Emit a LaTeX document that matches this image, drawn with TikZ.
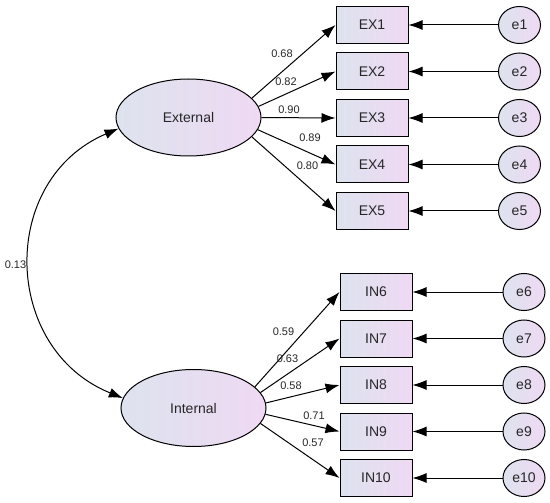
\documentclass[tikz,border=0pt]{standalone}
\usepackage{fontspec}
\setmainfont{Liberation Sans}
\usetikzlibrary{arrows.meta,shapes.geometric}
\definecolor{fillleft}{HTML}{DDE3EE}
\definecolor{fillright}{HTML}{EFD9F3}
\definecolor{txt}{HTML}{262626}
\tikzset{
    latent/.style={draw, ellipse, line width=1pt, left color=fillleft, right color=fillright,
        minimum width=145pt, minimum height=77pt, inner sep=0pt, text=txt, font=\fontsize{14}{16}\selectfont},
    item/.style={draw, rectangle, line width=1pt, left color=fillleft, right color=fillright,
        minimum width=72pt, minimum height=37pt, inner sep=0pt, text=txt, font=\fontsize{14}{16}\selectfont},
    err/.style={draw, ellipse, line width=1pt, left color=fillleft, right color=fillright,
        minimum width=42pt, minimum height=37pt, inner sep=0pt, text=txt, font=\fontsize{14}{16}\selectfont},
    load/.style={-{Latex[length=14pt,width=10pt]}, line width=1pt},
    coef/.style={text=txt, inner sep=0pt, font=\fontsize{11}{13}\selectfont}
}
\begin{document}
\begin{tikzpicture}[x=1pt, y=1pt]
    \useasboundingbox (0,0) rectangle (550,-503);

    % latent factors
    \node[latent] (ext) at (188.5,-117.5) {External};
    \node[latent] (int) at (193.5,-408) {Internal};

    % External items
    \node[item] (ex1) at (372,-25) {EX1};
    \node[item] (ex2) at (372,-71.5) {EX2};
    \node[item] (ex3) at (372,-118) {EX3};
    \node[item] (ex4) at (372,-164.5) {EX4};
    \node[item] (ex5) at (372,-211) {EX5};

    % Internal items
    \node[item] (in6) at (376,-292) {IN6};
    \node[item] (in7) at (376,-338.5) {IN7};
    \node[item] (in8) at (376,-385) {IN8};
    \node[item] (in9) at (376,-431.5) {IN9};
    \node[item] (in10) at (376,-478) {IN10};

    % error terms
    \node[err] (e1) at (519.5,-25) {e1};
    \node[err] (e2) at (519.5,-71.5) {e2};
    \node[err] (e3) at (519.5,-118) {e3};
    \node[err] (e4) at (519.5,-164.5) {e4};
    \node[err] (e5) at (519.5,-211) {e5};
    \node[err] (e6) at (524,-292) {e6};
    \node[err] (e7) at (524,-338.5) {e7};
    \node[err] (e8) at (524,-385) {e8};
    \node[err] (e9) at (524,-431.5) {e9};
    \node[err] (e10) at (524,-478) {e10};

    % loadings
    \draw[load] (ext.17) -- (ex1.west);
    \draw[load] (ext.9) -- (ex2.west);
    \draw[load] (ext.east) -- (ex3.west);
    \draw[load] (ext.-10) -- (ex4.west);
    \draw[load] (ext.-17) -- (ex5.west);
    \draw[load] (int.19) -- (in6.west);
    \draw[load] (int.13) -- (in7.west);
    \draw[load] (int.4) -- (in8.west);
    \draw[load] (int.-5) -- (in9.west);
    \draw[load] (int.-13) -- (in10.west);

    % errors
    \foreach \e/\b in {e1/ex1, e2/ex2, e3/ex3, e4/ex4, e5/ex5, e6/in6, e7/in7, e8/in8, e9/in9, e10/in10}
        \draw[load] (\e.west) -- (\b.east);

    % covariance
    \draw[{Latex[length=14pt,width=10pt]}-{Latex[length=14pt,width=10pt]}, line width=1pt]
        (ext.189) to[out=203, in=158, looseness=1.24] (int.172);

    % coefficients
    \node[coef] (c1) at (282,-54) {0.68};
    \node[coef] (c2) at (286,-81.5) {0.82};
    \node[coef] (c3) at (289,-109.5) {0.90};
    \node[coef] (c4) at (310,-138) {0.89};
    \node[coef] (c5) at (307.5,-166) {0.80};
    \node[coef] (c6) at (283.5,-332) {0.59};
    \node[coef] (c7) at (287.5,-359) {0.63};
    \node[coef] (c8) at (291,-386) {0.58};
    \node[coef] (c9) at (314,-415.5) {0.71};
    \node[coef] (c10) at (313,-443) {0.57};
    \node[coef] (cov) at (15.5,-265) {0.13};
\end{tikzpicture}
\end{document}
